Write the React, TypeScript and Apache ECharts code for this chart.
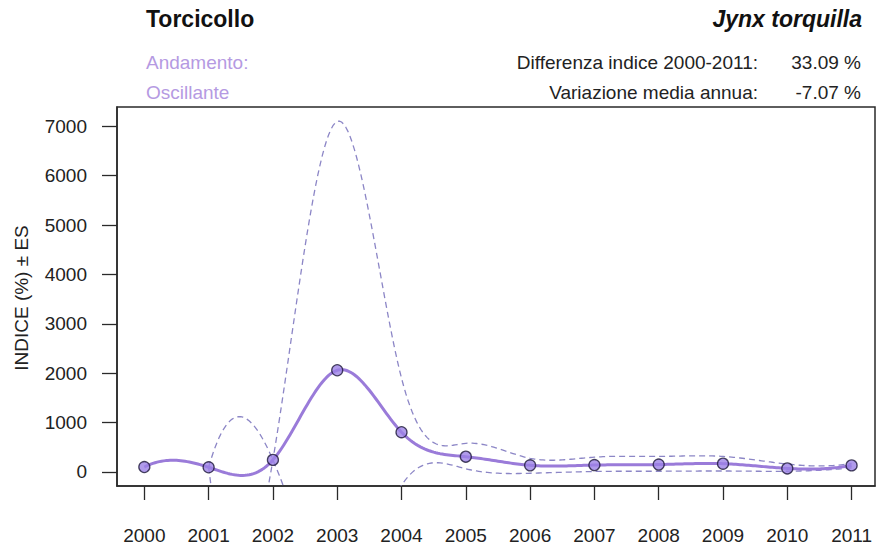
import React, { useEffect, useRef } from "react";
import * as echarts from "echarts";

// Torcicollo (Jynx torquilla) population index, 2000-2011
const years = [2000, 2001, 2002, 2003, 2004, 2005, 2006, 2007, 2008, 2009, 2010, 2011];
const indice = [100, 95, 245, 2060, 805, 310, 135, 140, 150, 168, 72, 133.09];

// Standard-error envelope (from 2001 onwards)
const boundYears = [2001, 2002, 2003, 2004, 2005, 2006, 2007, 2008, 2009, 2010, 2011];
const upperBound = [95, 245, 7100, 1900, 580, 277, 300, 315, 315, 160, 175];
const lowerBound = [95, 245, -2430, -270, 65, -26, 10, 15, 20, 15, 85];

const yTicks = [0, 1000, 2000, 3000, 4000, 5000, 6000, 7000];

const FONT = "'Liberation Sans', Arial, Helvetica, sans-serif";

// Cubic interpolating spline with Forsythe-Malcolm-Moler end conditions
function fmmSpline(xs: number[], ys: number[]) {
  const n = xs.length;
  const X = [0, ...xs];
  const Y = [0, ...ys];
  const b = new Array(n + 1).fill(0);
  const c = new Array(n + 1).fill(0);
  const d = new Array(n + 1).fill(0);
  const nm1 = n - 1;
  d[1] = X[2] - X[1];
  c[2] = (Y[2] - Y[1]) / d[1];
  for (let i = 2; i < n; i++) {
    d[i] = X[i + 1] - X[i];
    b[i] = 2 * (d[i - 1] + d[i]);
    c[i + 1] = (Y[i + 1] - Y[i]) / d[i];
    c[i] = c[i + 1] - c[i];
  }
  b[1] = -d[1];
  b[n] = -d[nm1];
  c[1] = 0;
  c[n] = 0;
  if (n > 3) {
    c[1] = c[3] / (X[4] - X[2]) - c[2] / (X[3] - X[1]);
    c[n] = c[nm1] / (X[n] - X[n - 2]) - c[n - 2] / (X[nm1] - X[n - 3]);
    c[1] = (c[1] * d[1] * d[1]) / (X[4] - X[1]);
    c[n] = (-c[n] * d[nm1] * d[nm1]) / (X[n] - X[n - 3]);
  }
  for (let i = 2; i <= n; i++) {
    const t = d[i - 1] / b[i - 1];
    b[i] = b[i] - t * d[i - 1];
    c[i] = c[i] - t * c[i - 1];
  }
  c[n] = c[n] / b[n];
  for (let i = nm1; i >= 1; i--) c[i] = (c[i] - d[i] * c[i + 1]) / b[i];
  b[n] = (Y[n] - Y[n - 1]) / d[nm1] + d[nm1] * (c[nm1] + 2 * c[n]);
  for (let i = 1; i <= nm1; i++) {
    b[i] = (Y[i + 1] - Y[i]) / d[i] - d[i] * (c[i + 1] + 2 * c[i]);
    d[i] = (c[i + 1] - c[i]) / d[i];
    c[i] = 3 * c[i];
  }
  c[n] = 3 * c[n];
  d[n] = d[nm1];

  // sample the spline densely between consecutive knots
  const pts: number[][] = [];
  const steps = 30;
  for (let i = 1; i < n; i++) {
    for (let s = 0; s < steps; s++) {
      const dx = ((X[i + 1] - X[i]) * s) / steps;
      pts.push([X[i] + dx, Y[i] + dx * (b[i] + dx * (c[i] + dx * d[i]))]);
    }
  }
  pts.push([X[n], Y[n]]);
  return pts;
}

function curveSeries(
  xs: number[],
  ys: number[],
  style: { stroke: string; lineWidth: number; lineDash?: number[] },
  z: number
) {
  const curve = fmmSpline(xs, ys);
  return {
    type: "custom",
    clip: true,
    z,
    silent: true,
    data: xs.map((x, i) => [x, ys[i]]),
    encode: { x: 0, y: 1 },
    renderItem: (params: any, api: any) => {
      if (params.dataIndex !== 0) return { type: "group", children: [] };
      return {
        type: "polyline",
        shape: { points: curve.map((p) => api.coord(p)) },
        style: { fill: null, lineJoin: "round", lineCap: "butt", ...style },
      };
    },
  };
}

export default function App() {
  const ref = useRef<HTMLDivElement>(null);

  useEffect(() => {
    document.body.style.margin = "0";
    if (!ref.current) return;
    const chart = echarts.init(ref.current, undefined, { renderer: "svg" });

    const axisColor = "#2a2a2a";
    const textColor = "#222222";
    const lavender = "#b59ae2";

    chart.setOption({
      animation: false,
      backgroundColor: "#ffffff",
      grid: {
        left: 117,
        right: 1,
        top: 107,
        bottom: 63,
        show: true,
        borderColor: axisColor,
        borderWidth: 1.5,
        backgroundColor: "transparent",
      },
      xAxis: {
        type: "value",
        min: 1999.575,
        max: 2011.364,
        axisLine: { show: true, onZero: false, lineStyle: { color: axisColor, width: 1.5 } },
        axisTick: {
          show: true,
          customValues: years,
          length: 14,
          lineStyle: { color: axisColor, width: 1.3 },
        },
        axisLabel: {
          customValues: years,
          margin: 40,
          fontSize: 19,
          fontFamily: FONT,
          color: textColor,
          formatter: (v: number) => String(Math.round(v)),
        },
        splitLine: { show: false },
      },
      yAxis: {
        type: "value",
        min: -284,
        max: 7391,
        axisLine: { show: true, onZero: false, lineStyle: { color: axisColor, width: 1.5 } },
        axisTick: {
          show: true,
          customValues: yTicks,
          length: 15,
          lineStyle: { color: axisColor, width: 1.3 },
        },
        axisLabel: {
          customValues: yTicks,
          margin: 30,
          fontSize: 19,
          fontFamily: FONT,
          color: textColor,
          formatter: (v: number) => String(Math.round(v)),
        },
        splitLine: { show: false },
      },
      graphic: [
        {
          type: "text",
          x: 146,
          y: 18.5,
          style: {
            text: "Torcicollo",
            fontSize: 23,
            fontWeight: "bold",
            fontFamily: FONT,
            fill: "#111111",
            align: "left",
            verticalAlign: "middle",
          },
        },
        {
          type: "text",
          x: 862,
          y: 18.5,
          style: {
            text: "Jynx torquilla",
            fontSize: 23,
            fontWeight: "bold",
            fontStyle: "italic",
            fontFamily: FONT,
            fill: "#111111",
            align: "right",
            verticalAlign: "middle",
          },
        },
        {
          type: "text",
          x: 146,
          y: 62,
          style: {
            text: "Andamento:",
            fontSize: 19,
            fontFamily: FONT,
            fill: lavender,
            align: "left",
            verticalAlign: "middle",
          },
        },
        {
          type: "text",
          x: 146,
          y: 92,
          style: {
            text: "Oscillante",
            fontSize: 19,
            fontFamily: FONT,
            fill: lavender,
            align: "left",
            verticalAlign: "middle",
          },
        },
        {
          type: "text",
          x: 758,
          y: 62,
          style: {
            text: "Differenza indice 2000-2011:",
            fontSize: 19,
            fontFamily: FONT,
            fill: textColor,
            align: "right",
            verticalAlign: "middle",
          },
        },
        {
          type: "text",
          x: 861,
          y: 62,
          style: {
            text: "33.09 %",
            fontSize: 19,
            fontFamily: FONT,
            fill: textColor,
            align: "right",
            verticalAlign: "middle",
          },
        },
        {
          type: "text",
          x: 758,
          y: 92,
          style: {
            text: "Variazione media annua:",
            fontSize: 19,
            fontFamily: FONT,
            fill: textColor,
            align: "right",
            verticalAlign: "middle",
          },
        },
        {
          type: "text",
          x: 861,
          y: 92,
          style: {
            text: "-7.07 %",
            fontSize: 19,
            fontFamily: FONT,
            fill: textColor,
            align: "right",
            verticalAlign: "middle",
          },
        },
        {
          type: "text",
          x: 21,
          y: 298,
          rotation: Math.PI / 2,
          style: {
            text: "INDICE (%) ± ES",
            fontSize: 19,
            fontFamily: FONT,
            fill: textColor,
            align: "center",
            verticalAlign: "middle",
          },
        },
      ],
      series: [
        curveSeries(boundYears, upperBound, { stroke: "#8c86c6", lineWidth: 1.3, lineDash: [6, 4] }, 2),
        curveSeries(boundYears, lowerBound, { stroke: "#8c86c6", lineWidth: 1.3, lineDash: [6, 4] }, 2),
        curveSeries(years, indice, { stroke: "#9a7bd9", lineWidth: 3 }, 3),
        {
          type: "scatter",
          z: 4,
          data: years.map((y, i) => [y, indice[i]]),
          symbol: "circle",
          symbolSize: 11,
          itemStyle: { color: "#9c82e6", borderColor: "#1d1838", borderWidth: 1.3 },
          silent: true,
        },
      ],
    });

    return () => chart.dispose();
  }, []);

  return <div ref={ref} style={{ width: 876, height: 549 }} />;
}
